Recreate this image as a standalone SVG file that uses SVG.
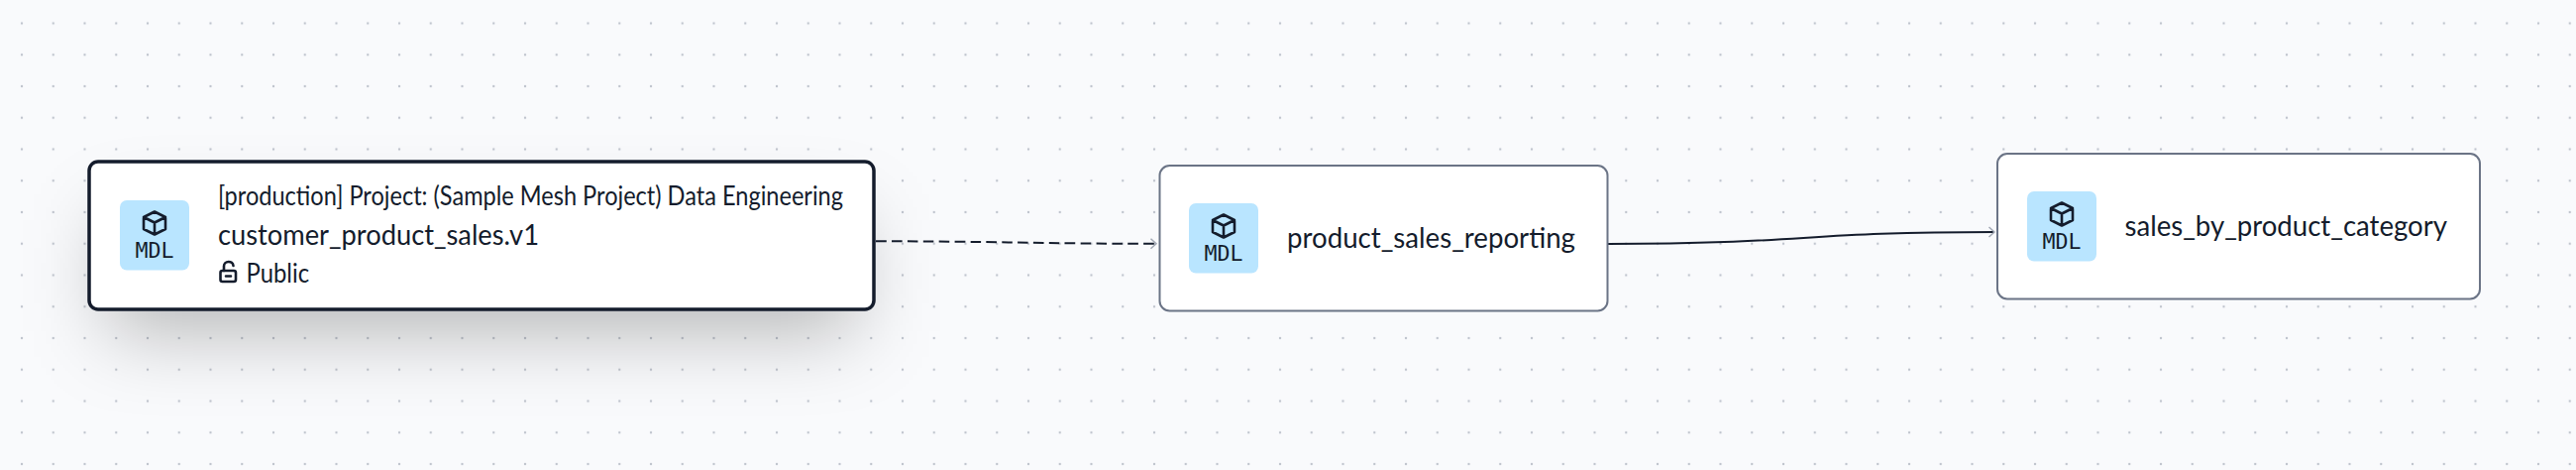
<svg xmlns="http://www.w3.org/2000/svg" width="2600" height="474" viewBox="0 0 2600 474">
<style>
.node{fill:#fff;stroke:#6b7486;stroke-width:2}
.sel{fill:#fff;stroke:#141c2c;stroke-width:3.5}
.badge{fill:#b9e5ff}
.ic{fill:none;stroke:#141c2c;stroke-width:2.6;stroke-linejoin:round;stroke-linecap:round}
.mdl{font-family:"DejaVu Sans Mono","Liberation Mono",monospace;font-size:21px;fill:#141c2c;text-anchor:middle}
.t{font-family:"Lato","Noto Sans",sans-serif;fill:#141c2c}
.edge{fill:none;stroke:#141c2c;stroke-width:2}
</style>
<defs>
<pattern id="dots" width="31.75" height="31.75" patternUnits="userSpaceOnUse" x="6.1" y="7.6"><circle cx="15.9" cy="15.9" r="1.2" fill="#bfc4cd"/></pattern>
<filter id="shadow" filterUnits="userSpaceOnUse" x="-100" y="0" width="1200" height="474"><feGaussianBlur stdDeviation="40"/></filter>
<marker id="arrow" markerWidth="12" markerHeight="14" refX="10" refY="7" orient="auto" markerUnits="userSpaceOnUse"><path d="M4.5 2 L10 7 L4.5 12" fill="none" stroke="#a3a9b5" stroke-width="1.5"/></marker>
<g id="cube"><path class="ic" d="M0-11.5 L11-6 V6 L0 11.5 L-11 6 V-6 Z M-11-6 L0-.5 L11-6 M0-.5 V11.5"/></g>
</defs>
<rect width="2600" height="474" fill="#f9fafc"/>
<rect width="2600" height="474" fill="url(#dots)"/>
<rect x="109" y="222" width="754" height="112" fill="#000" fill-opacity="0.28" filter="url(#shadow)"/>
<g id="connectors">
<path class="edge" stroke-dasharray="10.6 5.3" marker-end="url(#arrow)" d="M884 243.3 C1000 243.3 1050 245.8 1167 245.8"/>
<path class="edge" marker-end="url(#arrow)" d="M1623 246 C1820 246 1820 234 2013 234"/>
</g>
<g id="node-customer-product-sales">
<rect class="sel" x="90" y="163" width="792" height="149" rx="9"/>
<rect class="badge" x="121" y="202" width="70" height="70.5" rx="7"/>
<use href="#cube" x="156" y="225"/>
<text class="mdl" x="156" y="259.5" textLength="39" lengthAdjust="spacingAndGlyphs">MDL</text>
<text class="t" x="220" y="207" font-size="26" textLength="631" lengthAdjust="spacingAndGlyphs">[production] Project: (Sample Mesh Project) Data Engineering</text>
<text class="t" x="220" y="247" font-size="29" textLength="324" lengthAdjust="spacingAndGlyphs">customer_product_sales.v1</text>
<rect class="ic" x="222.5" y="273" width="15.5" height="11" rx="2"/>
<path class="ic" d="M226 273 V268.5 C226 262.5 235 262.5 235.5 268 M228 278.5 H233"/>
<text class="t" x="248.5" y="285" font-size="26" textLength="63.5" lengthAdjust="spacingAndGlyphs">Public</text>
</g>
<g id="node-product-sales-reporting">
<rect class="node" x="1170.5" y="167" width="452" height="146.5" rx="10"/>
<rect class="badge" x="1200" y="205" width="70" height="70.5" rx="7"/>
<use href="#cube" x="1235" y="228"/>
<text class="mdl" x="1235" y="262.5" textLength="39" lengthAdjust="spacingAndGlyphs">MDL</text>
<text class="t" x="1299" y="250" font-size="29" textLength="291" lengthAdjust="spacingAndGlyphs">product_sales_reporting</text>
</g>
<g id="node-sales-by-product-category">
<rect class="node" x="2016" y="155" width="487" height="146.5" rx="10"/>
<rect class="badge" x="2046" y="193" width="70" height="70.5" rx="7"/>
<use href="#cube" x="2081" y="216"/>
<text class="mdl" x="2081" y="250.5" textLength="39" lengthAdjust="spacingAndGlyphs">MDL</text>
<text class="t" x="2144.5" y="238" font-size="29" textLength="325.5" lengthAdjust="spacingAndGlyphs">sales_by_product_category</text>
</g>
</svg>
